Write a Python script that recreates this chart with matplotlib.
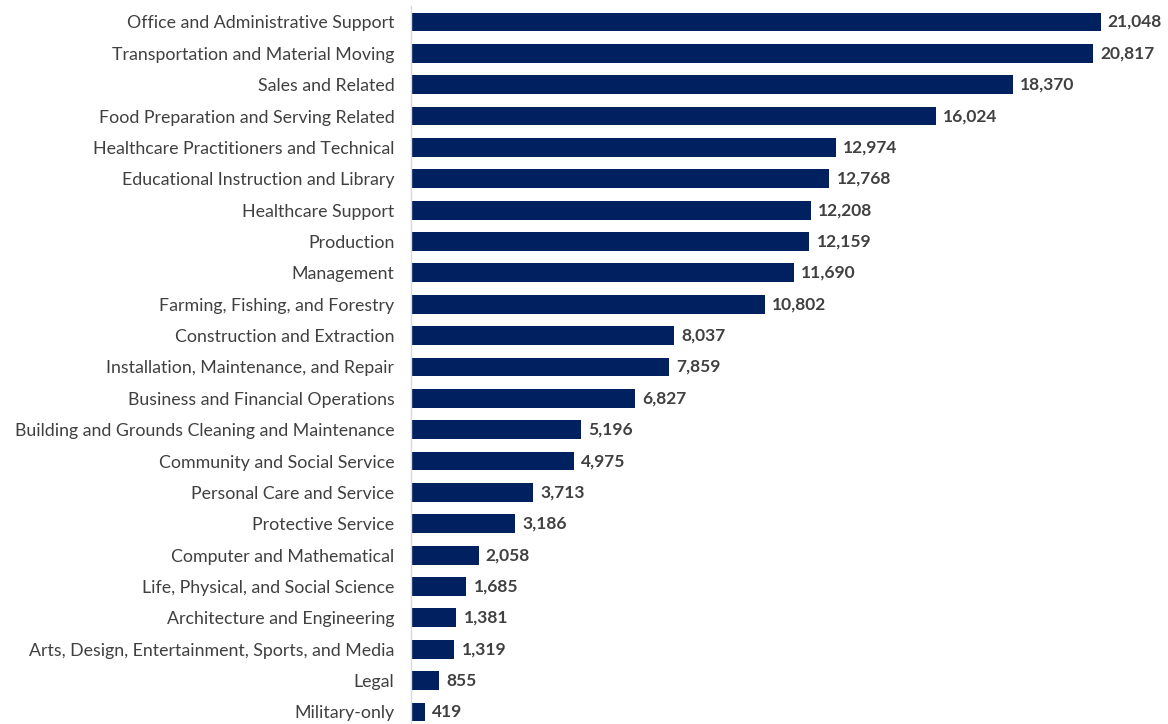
import matplotlib
matplotlib.use("Agg")
import matplotlib.pyplot as plt

categories = [
    "Office and Administrative Support",
    "Transportation and Material Moving",
    "Sales and Related",
    "Food Preparation and Serving Related",
    "Healthcare Practitioners and Technical",
    "Educational Instruction and Library",
    "Healthcare Support",
    "Production",
    "Management",
    "Farming, Fishing, and Forestry",
    "Construction and Extraction",
    "Installation, Maintenance, and Repair",
    "Business and Financial Operations",
    "Building and Grounds Cleaning and Maintenance",
    "Community and Social Service",
    "Personal Care and Service",
    "Protective Service",
    "Computer and Mathematical",
    "Life, Physical, and Social Science",
    "Architecture and Engineering",
    "Arts, Design, Entertainment, Sports, and Media",
    "Legal",
    "Military-only",
]
values = [21048, 20817, 18370, 16024, 12974, 12768, 12208, 12159, 11690, 10802,
          8037, 7859, 6827, 5196, 4975, 3713, 3186, 2058, 1685, 1381, 1319, 855, 419]

plt.rcParams['font.family'] = ['Lato', 'DejaVu Sans']

fig = plt.figure(figsize=(11.68, 7.24), dpi=100)
ax = fig.add_axes([0.352, -0.005, 0.631, 0.9963])

pos = list(range(len(categories)))
ax.barh(pos, values, height=0.6, color="#002060")
ax.set_ylim(len(categories) - 0.5, -0.5)
ax.set_xlim(0, 22500)

ax.set_yticks(pos)
ax.set_yticklabels(categories, fontsize=12.8, color="#404040")
ax.tick_params(axis="y", length=0, pad=12)
ax.set_xticks([])

for sp in ["top", "right", "bottom"]:
    ax.spines[sp].set_visible(False)
ax.spines["left"].set_color("#d9d9d9")
ax.spines["left"].set_linewidth(1)

for y, v in zip(pos, values):
    ax.text(v + 220, y, f"{v:,}", va="center", ha="left",
            fontsize=12.5, fontweight="bold", color="#404040")

fig.savefig("out.png", dpi=100)
